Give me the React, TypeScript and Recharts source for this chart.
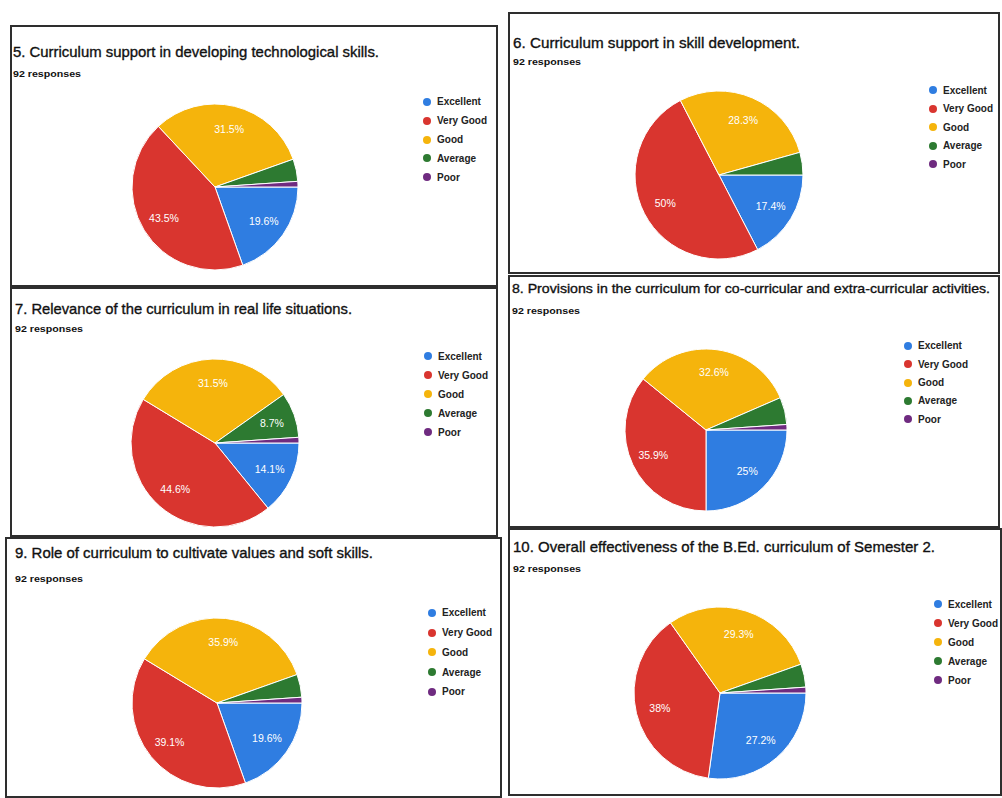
import React from 'react';
import { PieChart, Pie, Cell, Legend } from 'recharts';

const categories = ['Excellent', 'Very Good', 'Good', 'Average', 'Poor'];
const colors = ['#2f7de1', '#d9352f', '#f5b40c', '#2d7a31', '#6f2b80'];
const totalResponses = 92;
const responsesText = '92 responses';

const titles = [
  '5. Curriculum support in developing technological skills.',
  '6. Curriculum support in skill development.',
  '7. Relevance of the curriculum in real life situations.',
  '8. Provisions in the curriculum for co-curricular and extra-curricular activities.',
  '9. Role of curriculum to cultivate values and soft skills.',
  '10. Overall effectiveness of the B.Ed. curriculum of Semester 2.',
];

// response counts per category (Excellent, Very Good, Good, Average, Poor)
const q5Counts = [18, 40, 29, 4, 1];
const q6Counts = [16, 46, 26, 4, 0];
const q7Counts = [13, 41, 29, 8, 1];
const q8Counts = [23, 33, 30, 5, 1];
const q9Counts = [18, 36, 33, 4, 1];
const q10Counts = [25, 35, 27, 4, 1];

const seriesList = [q5Counts, q6Counts, q7Counts, q8Counts, q9Counts, q10Counts];

// layout (positions/sizes only)
const panels = [
  { left: 10, top: 25, width: 488, height: 262, cx: 205, cy: 162, r: 83, lx: 417, ly: 77, ls: 18.8, tx: 3, ty: 32, tw: 366, ts: 15, ry: 52 },
  { left: 508, top: 12, width: 492, height: 262, cx: 211, cy: 163, r: 84, lx: 425, ly: 78, ls: 18.5, tx: 5, ty: 36, tw: 287, ts: 15, ry: 53 },
  { left: 10, top: 287, width: 488, height: 250, cx: 205, cy: 156, r: 84, lx: 418, ly: 69, ls: 19, tx: 5, ty: 27, tw: 337, ts: 15, ry: 45 },
  { left: 508, top: 275, width: 492, height: 253, cx: 198, cy: 155, r: 81, lx: 400, ly: 71, ls: 18.3, tx: 4, ty: 18, tw: 478, ts: 13.3, ry: 39 },
  { left: 5, top: 537, width: 497, height: 261, cx: 212, cy: 166, r: 85, lx: 427, ly: 76, ls: 19.7, tx: 10, ty: 21, tw: 358, ts: 15, ry: 45 },
  { left: 508, top: 528, width: 494, height: 268, cx: 212, cy: 165, r: 86, lx: 430, ly: 76, ls: 19, tx: 5, ty: 24, tw: 422, ts: 15, ry: 44 },
];

const RAD = Math.PI / 180;

function fmtPct(v: number) {
  const p = Math.round((v / totalResponses) * 1000) / 10;
  return `${p}%`;
}

function renderLabel(props: any) {
  const { cx, cy, midAngle, outerRadius, value, percent } = props;
  if (percent < 0.06) return null;
  const rr = outerRadius * 0.72;
  const x = cx + rr * Math.cos(-midAngle * RAD);
  const y = cy + rr * Math.sin(-midAngle * RAD);
  return (
    <text
      x={x}
      y={y}
      fill="#ffffff"
      fontSize={10.5}
      fontFamily="Liberation Sans, Arial, sans-serif"
      textAnchor="middle"
      dominantBaseline="central"
    >
      {fmtPct(value)}
    </text>
  );
}

function makeLegend(spacing: number) {
  return (props: any) => {
    const payload = [...(props.payload || [])].sort(
      (a: any, b: any) => categories.indexOf(a.value) - categories.indexOf(b.value)
    );
    return (
      <div style={{ fontFamily: 'Liberation Sans, Arial, sans-serif' }}>
        {payload.map((p: any, i: number) => (
          <div key={i} style={{ height: spacing, display: 'flex', alignItems: 'center' }}>
            <span
              style={{
                width: 8,
                height: 8,
                borderRadius: 4,
                background: p.color,
                display: 'inline-block',
                marginRight: 6,
              }}
            />
            <span style={{ fontSize: 10, fontWeight: 'bold', color: '#222', whiteSpace: 'nowrap' }}>{p.value}</span>
          </div>
        ))}
      </div>
    );
  };
}

function Panel({ idx }: { idx: number }) {
  const L = panels[idx];
  const counts = seriesList[idx];
  const data = categories.map((c, i) => ({ name: c, value: counts[i] }));
  return (
    <div style={{ position: 'absolute', left: L.left, top: L.top, width: L.width, height: L.height }}>
      <div style={{ position: 'absolute', left: 0, top: 0 }}>
        <PieChart width={L.width} height={L.height} margin={{ top: 0, right: 0, bottom: 0, left: 0 }}>
          <Pie
            data={data}
            dataKey="value"
            nameKey="name"
            cx={L.cx}
            cy={L.cy}
            outerRadius={L.r}
            startAngle={0}
            endAngle={-360}
            stroke="#ffffff"
            strokeWidth={1}
            label={renderLabel}
            labelLine={false}
            isAnimationActive={false}
          >
            {data.map((d, i) => (
              <Cell key={d.name} fill={colors[i]} />
            ))}
          </Pie>
          <Legend
            layout="vertical"
            align="right"
            verticalAlign="middle"
            content={makeLegend(L.ls)}
            wrapperStyle={{ position: 'absolute', left: L.lx - 4, top: L.ly - L.ls / 2, width: 80 }}
          />
        </PieChart>
      </div>
      <svg
        width={L.width}
        height={60}
        style={{ position: 'absolute', left: 0, top: 0, pointerEvents: 'none' }}
      >
        <text
          x={L.tx}
          y={L.ty}
          fontSize={L.ts}
          fontFamily="Liberation Sans, Arial, sans-serif"
          fill="#111"
          stroke="#111"
          strokeWidth={0.35}
          textLength={L.tw}
          lengthAdjust="spacingAndGlyphs"
        >
          {titles[idx]}
        </text>
        <text
          x={L.tx}
          y={L.ry}
          fontSize={9}
          fontWeight="bold"
          fontFamily="Liberation Sans, Arial, sans-serif"
          fill="#111"
          textLength={68}
          lengthAdjust="spacingAndGlyphs"
        >
          {responsesText}
        </text>
      </svg>
      <div
        style={{
          position: 'absolute',
          left: 0,
          top: 0,
          width: L.width,
          height: L.height,
          boxSizing: 'border-box',
          border: '2px solid #2e2e2e',
          pointerEvents: 'none',
        }}
      />
    </div>
  );
}

export default function App() {
  return (
    <div style={{ position: 'absolute', left: 0, top: 0, width: 1002, height: 798, background: '#ffffff', overflow: 'hidden' }}>
      {panels.map((_, i) => (
        <Panel key={i} idx={i} />
      ))}
    </div>
  );
}
